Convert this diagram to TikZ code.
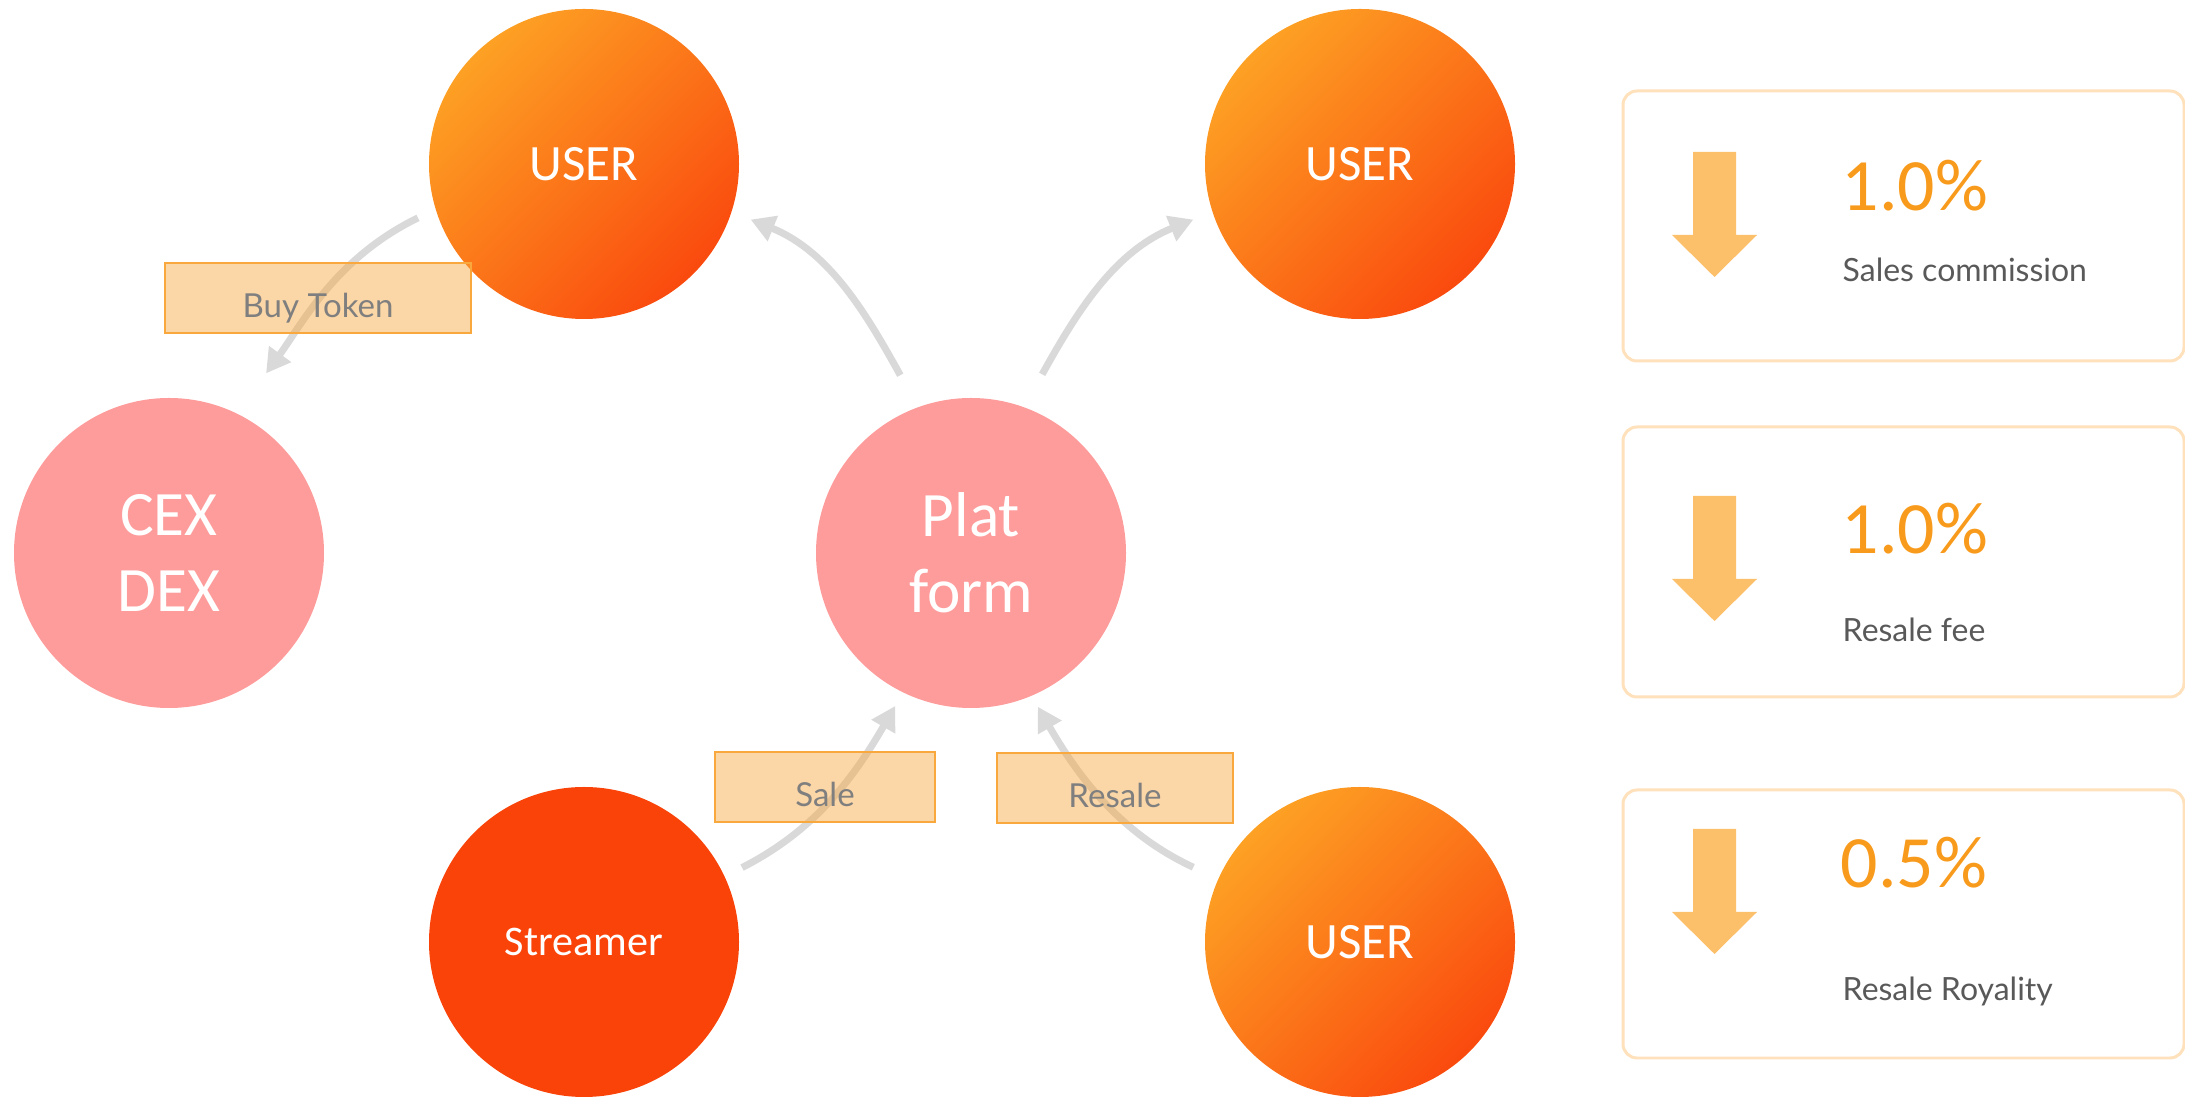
\documentclass[tikz,border=0pt]{standalone}
\usepackage{fontspec}
\setmainfont{Lato}
\newfontfamily\calibri{Carlito}
\usetikzlibrary{arrows.meta}

\definecolor{userlight}{HTML}{FDA124}
\definecolor{userdark}{HTML}{FA4A0E}
\definecolor{streamred}{HTML}{FA4309}
\definecolor{pinkfill}{HTML}{FE9B9B}
\definecolor{flowgray}{HTML}{D9D9D9}
\definecolor{tagfill}{HTML}{F7A43A}
\definecolor{tagedge}{HTML}{F8A83C}
\definecolor{taggray}{HTML}{7F7F7F}
\definecolor{cardedge}{HTML}{FFE1BC}
\definecolor{feefill}{HTML}{FCBF6A}
\definecolor{pctorange}{HTML}{F89A1B}
\definecolor{labelgray}{HTML}{595959}

% down arrow in a fee card, #1,#2 = top centre of the shaft
\newcommand{\feedown}[2]{%
  \fill[feefill] (#1,#2) ++(-0.215,0) -- ++(0.43,0) -- ++(0,-0.83) -- ++(0.21,0)
    -- ++(-0.425,-0.42) -- ++(-0.425,0.42) -- ++(0.21,0) -- cycle;}

\begin{document}
\begin{tikzpicture}[
  unode/.style={circle,minimum size=3.1cm,inner sep=0pt,text=white,align=center,
    top color=userlight,bottom color=userdark,shading angle=45,
    font=\calibri\fontsize{14.5}{17}\selectfont},
  pnode/.style={circle,minimum size=3.1cm,inner sep=0pt,fill=pinkfill,text=white,
    align=center,font=\calibri\fontsize{18}{21.5}\selectfont},
  snode/.style={circle,minimum size=3.1cm,inner sep=0pt,fill=streamred,text=white,
    font=\calibri\fontsize{12}{14}\selectfont},
  tnode/.style={draw=tagedge,line width=0.6pt,fill=tagfill,fill opacity=0.45,
    text opacity=1,text=taggray,minimum height=0.7cm,inner sep=0pt,
    text height=0.4cm,text depth=0pt,font=\fontsize{9.4}{11}\selectfont},
  flow/.style={draw=flowgray,line width=2pt,-{Triangle[length=0.24cm,width=0.26cm]}},
  card/.style={draw=cardedge,line width=0.85pt,rounded corners=0.14cm},
  pct/.style={anchor=base west,inner sep=0pt,text=pctorange,
    font=\calibri\fontsize{21}{25}\selectfont},
  fee/.style={anchor=base west,inner sep=0pt,text=labelgray,
    font=\fontsize{9.1}{11}\selectfont}
]
  \useasboundingbox (0,0) rectangle (21.85,10.97);

  % circles
  \node[unode] (u1) at (5.84,9.33) {USER};
  \node[unode] (u2) at (13.60,9.33) {USER};
  \node[pnode] (cex) at (1.69,5.44) {CEX\\DEX};
  \node[pnode] (plat) at (9.71,5.44) {Plat\\form};
  \node[snode] (strm) at (5.84,1.55) {Streamer};
  \node[unode] (u3) at (13.60,1.55) {USER};

  % flows
  \draw[flow,shorten <=0.19cm,shorten >=0.49cm] (u1.197) to[out=206,in=54] (cex.64);
  \draw[flow,shorten <=0.36cm,shorten >=0.20cm] (plat.110) to[out=119,in=-22] (u1.342);
  \draw[flow,shorten <=0.37cm,shorten >=0.20cm] (plat.70) to[out=61,in=202] (u2.198);
  \draw[flow,shorten <=0.19cm,shorten >=0.15cm] (strm.25) to[out=27,in=240] (plat.244);
  \draw[flow,shorten <=0.27cm,shorten >=0.12cm] (u3.156) to[out=155,in=300] (plat.293);

  % flow labels
  \node[tnode,minimum width=3.06cm] (buy) at (3.18,7.99) {Buy Token};
  \node[tnode,minimum width=2.20cm] (sale) at (8.25,3.10) {Sale};
  \node[tnode,minimum width=2.36cm] (resale) at (11.15,3.09) {Resale};

  % fee cards
  \draw[card] (16.23,7.36) rectangle (21.84,10.06);
  \draw[card] (16.23,4.00) rectangle (21.84,6.70);
  \draw[card] (16.23,0.39) rectangle (21.84,3.07);

  \feedown{17.145}{9.45}
  \node[pct] (p1) at (18.41,8.86) {1.0\%};
  \node[fee] (f1) at (18.42,8.15) {Sales commission};

  \feedown{17.145}{6.01}
  \node[pct] (p2) at (18.41,5.43) {1.0\%};
  \node[fee] (f2) at (18.42,4.55) {Resale fee};

  \feedown{17.145}{2.68}
  \node[pct] (p3) at (18.40,2.09) {0.5\%};
  \node[fee] (f3) at (18.42,0.96) {Resale Royality};

\end{tikzpicture}
\end{document}
